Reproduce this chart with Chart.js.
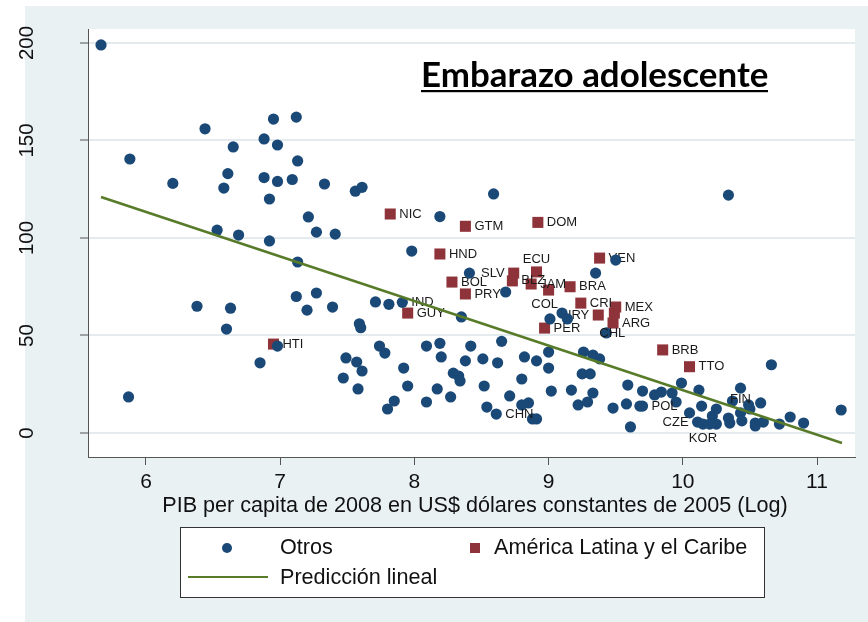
<!DOCTYPE html>
<html>
<head>
<meta charset="utf-8">
<script src="https://cdn.jsdelivr.net/npm/chart.js@4.4.1/dist/chart.umd.min.js"></script>
<style>
  html, body { margin: 0; padding: 0; background: #fff; }
  #wrap { width: 868px; height: 622px; }
</style>
</head>
<body>
<div id="wrap"><canvas id="chart" width="868" height="622"></canvas></div>
<script>
// ---- data ----
const xTicks = [6, 7, 8, 9, 10, 11];
const yTicks = [0, 50, 100, 150, 200];

// Otros (blue dots)
const otrosX = [5.665, 5.88, 6.20, 6.44, 6.65, 6.61, 6.58, 6.88, 6.95, 6.98,
  7.12, 7.13, 6.88, 6.98, 7.09, 6.92, 7.33, 7.56, 7.61, 7.21,
  6.53, 6.69, 7.27, 7.41, 6.92, 7.13, 6.38, 6.63, 6.60, 7.12,
  7.27, 7.20, 7.39, 7.71, 7.59, 7.60, 7.74, 6.98, 6.85, 7.49,
  7.57, 7.61, 7.47, 7.58, 5.87, 8.59, 8.19, 7.98, 8.41, 8.68,
  9.35, 9.50, 7.81, 7.91, 8.35, 9.01, 9.10, 9.14, 9.43, 8.09,
  8.19, 8.42, 8.65, 7.78, 8.20, 8.38, 8.51, 8.62, 8.82, 8.91,
  9.00, 9.00, 9.26, 9.33, 9.38, 7.92, 8.29, 8.33, 8.34, 8.80,
  9.25, 9.31, 7.95, 8.17, 8.27, 8.52, 8.71, 9.02, 9.17, 9.33,
  7.85, 7.80, 8.09, 8.54, 8.61, 8.80, 8.85, 8.88, 8.91, 9.22,
  9.29, 9.48, 9.59, 9.70, 9.58, 9.68, 9.70, 9.61, 9.79, 9.84,
  10.34, 10.66, 9.99, 10.12, 10.43, 9.92, 9.95, 10.05, 10.14, 10.25,
  10.22, 10.37, 10.49, 10.50, 10.43, 10.44, 10.58, 10.34, 10.35, 10.11,
  10.15, 10.20, 10.25, 10.54, 10.54, 10.60, 10.72, 10.80, 10.90, 11.18];
const otrosY = [199, 140.5, 128, 156, 146.7, 133, 125.6, 150.8, 161, 147.7,
  162, 139.5, 131, 129, 130, 120, 127.7, 124, 126, 110.8,
  104, 101.5, 103, 102, 98.5, 87.7, 65, 64, 53.3, 70,
  71.8, 63, 64.6, 67.2, 56, 54, 44.6, 44.6, 36, 38.5,
  36.4, 31.8, 28.2, 22.6, 18.5, 122.6, 111, 93.3, 82, 72.3,
  82, 88.7, 66, 67, 59.5, 58.5, 61.5, 58.5, 51.3, 44.6,
  46, 44.6, 47, 41, 39, 37, 38, 36, 39, 37,
  41.5, 33.3, 41.5, 40, 38, 33.3, 30.7, 29.2, 26.7, 27.7,
  30.3, 30.3, 24.1, 22.6, 18.5, 24.1, 19, 21.5, 22, 20.5,
  16.4, 12.3, 15.9, 13.3, 9.7, 14.4, 15.4, 7.2, 7.2, 14.4,
  15.9, 12.8, 24.6, 21.5, 14.9, 13.8, 13.8, 3.1, 19.5, 21,
  122, 35, 25.6, 22, 23, 20.5, 15.9, 10.3, 13.8, 12.3,
  8.7, 16.4, 14.4, 12.3, 10.3, 6.2, 15.4, 7.7, 5.1, 5.6,
  4.6, 4.6, 4.6, 5.1, 3.6, 5.6, 4.6, 8.2, 5.1, 11.8];
// labelled blue points: [code, index into otrosX/otrosY]
const otrosCodes = [['IND', 53], ['COL', 56], ['CHL', 58], ['CHN', 94],
  ['POL', 106], ['FIN', 124], ['CZE', 129], ['KOR', 130]];

// América Latina y el Caribe (red squares)
const alcCodes = ['HTI', 'NIC', 'GTM', 'DOM', 'HND', 'SLV', 'ECU', 'BLZ', 'JAM', '',
  'BRA', 'CRI', 'URY', 'MEX', '', 'ARG', 'PER', 'GUY', 'BOL', 'PRY', 'VEN', 'BRB', 'TTO'];
const alcX = [6.95, 7.82, 8.38, 8.92, 8.19, 8.74, 8.91, 8.73, 8.87, 9.00,
  9.16, 9.24, 9.37, 9.50, 9.49, 9.48, 8.97, 7.95, 8.28, 8.38, 9.38, 9.85, 10.05];
const alcY = [45.6, 112.3, 106, 108, 91.8, 82, 82.6, 78, 76.4, 73.3,
  75, 66.6, 60.5, 64.6, 61.5, 56.4, 53.8, 61.5, 77.4, 71.3, 89.7, 42.6, 34];

// Predicción lineal (fitted line end points)
const predX = [5.665, 11.186];
const predY = [121, -5.1];

// ---- styles ----
const FONT = '"Liberation Sans", Arial, sans-serif';
const BLUE = '#1b4977';
const RED = '#8e333a';
const GREEN = '#587b2a';
const BG = '#e9f1f3';
const AXIS = '#555';

// clock position of label relative to marker (default 3)
const labelPos = { SLV: 9, ECU: 12, URY: 9, COL: 11, CHL: 0, FIN: 12, CZE: 9, KOR: 6 };
const posOffsets = {
  3: [9, 0, 'left'], 9: [-9, 0, 'right'], 12: [0, -13, 'center'],
  6: [0, 14, 'center'], 11: [-4, -9, 'right'], 0: [6, 0, 'center']
};

function drawLabel(ctx, code, px, py) {
  const o = posOffsets[labelPos[code] !== undefined ? labelPos[code] : 3];
  ctx.textAlign = o[2];
  ctx.fillText(code, px + o[0], py + o[1]);
}

const bgPlugin = {
  id: 'bg',
  beforeDraw(chart) {
    const ctx = chart.ctx, a = chart.chartArea;
    ctx.save();
    ctx.fillStyle = '#fff';
    ctx.fillRect(0, 0, chart.width, chart.height);
    ctx.fillStyle = BG;
    ctx.fillRect(25, 6, chart.width - 25, chart.height - 6);
    ctx.fillStyle = '#fff';
    ctx.fillRect(a.left, a.top, a.right - a.left, a.bottom - a.top);
    ctx.restore();
  }
};

// marker labels, drawn right after their own dataset
const labelPlugin = {
  id: 'mlabels',
  afterDatasetDraw(chart, args) {
    const ctx = chart.ctx;
    const meta = chart.getDatasetMeta(args.index);
    ctx.save();
    ctx.font = '13px ' + FONT;
    ctx.fillStyle = '#1a1a1a';
    ctx.textBaseline = 'middle';
    if (args.index === 1) {
      alcCodes.forEach((code, i) => {
        if (!code) return;
        const pt = meta.data[i];
        drawLabel(ctx, code, pt.x, pt.y);
      });
    } else if (args.index === 0) {
      otrosCodes.forEach(([code, i]) => {
        const pt = meta.data[i];
        drawLabel(ctx, code, pt.x, pt.y);
      });
    }
    ctx.restore();
  }
};

const textPlugin = {
  id: 'texts',
  afterDraw(chart) {
    const ctx = chart.ctx, ys = chart.scales.y;
    ctx.save();
    // rotated y tick labels
    ctx.fillStyle = '#111';
    ctx.font = '20.5px ' + FONT;
    ctx.textAlign = 'center';
    ctx.textBaseline = 'alphabetic';
    yTicks.forEach(v => {
      ctx.save();
      ctx.translate(33, ys.getPixelForValue(v));
      ctx.rotate(-Math.PI / 2);
      ctx.fillText(String(v), 0, 0);
      ctx.restore();
    });

    // x axis title
    ctx.font = '21.6px ' + FONT;
    ctx.textBaseline = 'middle';
    ctx.fillText('PIB per capita de 2008 en US$ dólares constantes de 2005 (Log)', 475, 506);

    // title inside plot, underlined
    const title = 'Embarazo adolescente';
    let size = 31;
    ctx.font = 'bold ' + size + 'px Lato, "Open Sans", sans-serif';
    size = size * 347 / ctx.measureText(title).width;
    ctx.font = 'bold ' + size.toFixed(1) + 'px Lato, "Open Sans", sans-serif';
    ctx.textAlign = 'left';
    ctx.textBaseline = 'alphabetic';
    ctx.fillStyle = '#000';
    ctx.fillText(title, 421, 87);
    ctx.fillRect(421, 90, 347, 2.2);

    // legend box
    const ds = chart.data.datasets;
    ctx.fillStyle = '#fff';
    ctx.fillRect(180, 527, 584, 70);
    ctx.strokeStyle = '#333';
    ctx.lineWidth = 1;
    ctx.strokeRect(180.5, 527.5, 584, 70);
    ctx.font = '21.6px ' + FONT;
    ctx.textBaseline = 'middle';
    ctx.fillStyle = '#111';
    ctx.fillText(ds[0].label, 280, 548);
    ctx.fillText(ds[1].label, 494, 548);
    ctx.fillText(ds[2].label, 280, 578);
    ctx.fillStyle = BLUE;
    ctx.beginPath();
    ctx.arc(227, 548, 5, 0, Math.PI * 2);
    ctx.fill();
    ctx.fillStyle = RED;
    ctx.fillRect(470, 543, 10, 10);
    ctx.strokeStyle = GREEN;
    ctx.lineWidth = 2;
    ctx.beginPath();
    ctx.moveTo(188, 577);
    ctx.lineTo(268, 577);
    ctx.stroke();
    ctx.restore();
  }
};

new Chart(document.getElementById('chart'), {
  type: 'scatter',
  data: {
    datasets: [
      {
        label: 'Otros',
        data: otrosX.map((x, i) => ({ x: x, y: otrosY[i] })),
        pointStyle: 'circle',
        pointRadius: 5.6,
        backgroundColor: BLUE,
        borderWidth: 0,
        order: 1
      },
      {
        label: 'América Latina y el Caribe',
        data: alcX.map((x, i) => ({ x: x, y: alcY[i] })),
        pointStyle: 'rect',
        pointRadius: 7.8,
        backgroundColor: RED,
        borderWidth: 0,
        order: 2
      },
      {
        type: 'line',
        label: 'Predicción lineal',
        data: predX.map((x, i) => ({ x: x, y: predY[i] })),
        borderColor: GREEN,
        borderWidth: 2.5,
        pointRadius: 0,
        fill: false,
        order: 0
      }
    ]
  },
  options: {
    responsive: false,
    animation: false,
    events: [],
    layout: { padding: { top: 29, right: 13, left: 0, bottom: 0 } },
    plugins: { legend: { display: false }, tooltip: { enabled: false } },
    scales: {
      x: {
        type: 'linear',
        min: 5.568,
        max: 11.283,
        afterBuildTicks: s => { s.ticks = xTicks.map(v => ({ value: v })); },
        afterFit: s => { s.height = 165; },
        grid: { drawOnChartArea: false, tickLength: 8, tickColor: AXIS, tickWidth: 1 },
        border: { color: AXIS, width: 1 },
        ticks: { font: { size: 21, family: FONT }, color: '#111', padding: 5, maxRotation: 0 }
      },
      y: {
        type: 'linear',
        min: -12.31,
        max: 207.18,
        afterBuildTicks: s => { s.ticks = yTicks.map(v => ({ value: v })); },
        afterFit: s => { s.width = 88; },
        grid: { color: '#e3ebef', lineWidth: 2, tickLength: 8, tickColor: AXIS, tickWidth: 1 },
        border: { color: AXIS, width: 1 },
        ticks: { display: false }
      }
    }
  },
  plugins: [bgPlugin, labelPlugin, textPlugin]
});
</script>
</body>
</html>
